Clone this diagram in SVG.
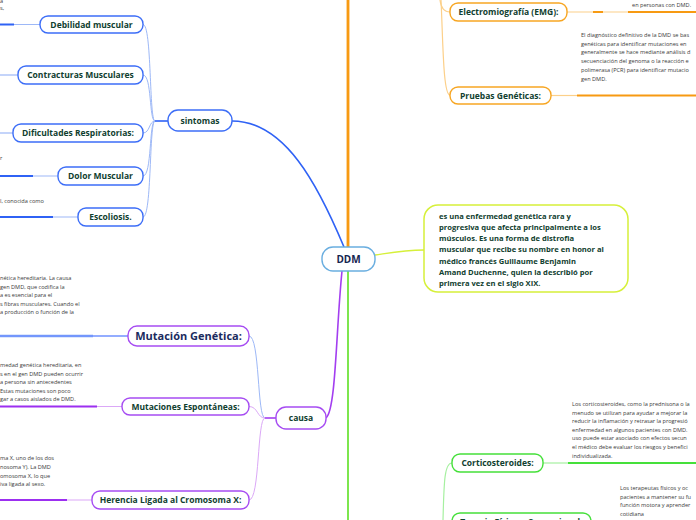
<svg xmlns="http://www.w3.org/2000/svg" width="696" height="520" viewBox="0 0 696 520">
<style>
.bg{fill:#ffffff}
.lbl{font-family:"Open Sans","Noto Sans",sans-serif;font-weight:bold;font-size:8.5px;fill:#10402f}
.big{font-family:"Open Sans","Noto Sans",sans-serif;font-weight:bold;font-size:11px;fill:#1a2b5e}
.note{font-family:"Open Sans","Noto Sans",sans-serif;font-size:5.6px;fill:#3a3a3a}
.desc{font-family:"Open Sans","Noto Sans",sans-serif;font-weight:bold;font-size:7.6px;fill:#10402f}
.nb{fill:#ffffff;stroke:#3d6ef7;stroke-width:1.4}
.np{fill:#ffffff;stroke:#a64cf2;stroke-width:1.4}
.no{fill:#ffffff;stroke:#f7a623;stroke-width:1.4}
.ng{fill:#ffffff;stroke:#45e03a;stroke-width:1.4}
.c{fill:none}
</style>
<rect class="bg" x="0" y="0" width="696" height="520"/>
<g id="connectors">
  <!-- main branches -->
  <path class="c" d="M348,0 L348,247" stroke="#fdd49a" stroke-width="4"/>
  <path class="c" d="M348,0 L348,247" stroke="#f79a12" stroke-width="2"/>
  <path class="c" d="M348,271 L348,520" stroke="#5ce021" stroke-width="1.6"/>
  <path class="c" d="M232,121 C285,121 318,185 344,247" stroke="#2f62f5" stroke-width="1.6"/>
  <path class="c" d="M326,418 C336,410 336,330 342,271" stroke="#a33ef0" stroke-width="1.6"/>
  <path class="c" d="M375,255 C395,252 405,250 424,250" stroke="#d6f03a" stroke-width="1.4"/>
  <!-- sintomas children -->
  <path class="c" d="M168,121 L155,121" stroke="#2f62f5" stroke-width="1.6"/>
  <path class="c" d="M155,121 C149,121 152,24.5 143,24.5" stroke="#9db8f7" stroke-width="1"/>
  <path class="c" d="M155,121 C149,121 152,75 143,75" stroke="#9db8f7" stroke-width="1"/>
  <path class="c" d="M155,121 C149,121 150,133 143,133" stroke="#9db8f7" stroke-width="1"/>
  <path class="c" d="M155,121 C149,121 152,176 143,176" stroke="#9db8f7" stroke-width="1"/>
  <path class="c" d="M155,121 C149,121 152,217 143,217" stroke="#9db8f7" stroke-width="1"/>
  <path class="c" d="M0,24.5 L40,24.5" stroke="#9db8f7" stroke-width="1.2"/>
  <path class="c" d="M0,24.5 L14,24.5" stroke="#2f62f5" stroke-width="2"/>
  <path class="c" d="M0,75 L18,75" stroke="#9db8f7" stroke-width="1.2"/>
  <path class="c" d="M0,133 L13,133" stroke="#9db8f7" stroke-width="1.2"/>
  <path class="c" d="M0,176 L58,176" stroke="#9db8f7" stroke-width="1.2"/>
  <path class="c" d="M0,176 L33,176" stroke="#2f62f5" stroke-width="2"/>
  <path class="c" d="M0,217 L78,217" stroke="#9db8f7" stroke-width="1.2"/>
  <path class="c" d="M0,217 L53,217" stroke="#2f62f5" stroke-width="2"/>
  <!-- causa children -->
  <path class="c" d="M276,418 L265,418" stroke="#a33ef0" stroke-width="1.6"/>
  <path class="c" d="M265,418 C257,418 260,336 249,336" stroke="#9db8f7" stroke-width="1"/>
  <path class="c" d="M265,418 C257,418 258,406.5 249,406.5" stroke="#dba8f7" stroke-width="1"/>
  <path class="c" d="M265,418 C257,418 260,500 249,500" stroke="#dba8f7" stroke-width="1"/>
  <path class="c" d="M0,336 L93,336" stroke="#bcd0f9" stroke-width="3"/>
  <path class="c" d="M0,336 L128,336" stroke="#2b5cff" stroke-width="1.2"/>
  <path class="c" d="M0,406.5 L122,406.5" stroke="#dba8f7" stroke-width="1.2"/>
  <path class="c" d="M0,406.5 L97,406.5" stroke="#9c2ff0" stroke-width="2"/>
  <path class="c" d="M0,500 L92,500" stroke="#dba8f7" stroke-width="1.2"/>
  <path class="c" d="M0,500 L67,500" stroke="#9c2ff0" stroke-width="2"/>
  <!-- orange children -->
  <path class="c" d="M440,0 C441,8 444,12 450,12" stroke="#fcd08a" stroke-width="1.2"/>
  <path class="c" d="M441,0 C443,40 443,95 450,95" stroke="#fcd08a" stroke-width="1.2"/>
  <path class="c" d="M567,12 L696,12" stroke="#fcd08a" stroke-width="1.2"/>
  <path class="c" d="M593,12 L603,12 M628,12 L696,12" stroke="#f79a12" stroke-width="2"/>
  <path class="c" d="M551,95.5 L577,95.5" stroke="#fcd08a" stroke-width="1.2"/>
  <path class="c" d="M577,95.5 L696,95.5" stroke="#f79a12" stroke-width="2"/>
  <!-- green children -->
  <path class="c" d="M443,520 C444,485 444,463 452,463" stroke="#a6f0a0" stroke-width="1.2"/>
  <path class="c" d="M543,463 L568,463" stroke="#a6f0a0" stroke-width="1.2"/>
  <path class="c" d="M568,463 L696,463" stroke="#45e03a" stroke-width="2"/>
</g>
<g id="ddm">
  <rect x="322" y="247" width="53" height="24" rx="11" fill="#ffffff" stroke="#6aaee0" stroke-width="1.4"/>
  <text x="348.5" y="263" text-anchor="middle" font-family="Open Sans, sans-serif" font-weight="bold" font-size="10" fill="#15254f">DDM</text>
</g>
<g id="sintomas">
  <rect class="nb" x="168" y="110" width="64" height="21" rx="10"/>
  <text class="lbl" x="200" y="124" text-anchor="middle" font-size="9">sintomas</text>
</g>
<g id="debilidad">
  <rect class="nb" x="40" y="16" width="103" height="17" rx="8"/>
  <text class="lbl" x="91.5" y="27.5" text-anchor="middle">Debilidad muscular</text>
  <text class="note" x="0" y="3">a</text>
  <text class="note" x="0" y="10">s,</text>
</g>
<g id="contracturas">
  <rect class="nb" x="18" y="66" width="125" height="18" rx="8"/>
  <text class="lbl" x="80.5" y="78" text-anchor="middle">Contracturas Musculares</text>
</g>
<g id="dificultades">
  <rect class="nb" x="13" y="124" width="130" height="18" rx="8"/>
  <text class="lbl" x="78" y="136" text-anchor="middle">Dificultades Respiratorias:</text>
</g>
<g id="dolor">
  <rect class="nb" x="58" y="167" width="85" height="18" rx="8"/>
  <text class="lbl" x="100.5" y="179" text-anchor="middle">Dolor Muscular</text>
  <text class="note" x="0" y="160">r</text>
</g>
<g id="escoliosis">
  <rect class="nb" x="78" y="208" width="65" height="18" rx="8"/>
  <text class="lbl" x="110.5" y="220" text-anchor="middle">Escoliosis.</text>
  <text class="note" x="0" y="203">l, conocida como</text>
</g>
<g id="causa">
  <rect class="np" x="276" y="407" width="50" height="22" rx="10"/>
  <text class="lbl" x="301" y="421" text-anchor="middle" font-size="9">causa</text>
</g>
<g id="mutacion">
  <rect class="np" x="128" y="326" width="121" height="20" rx="9"/>
  <text class="big" x="188.5" y="340" text-anchor="middle">Mutación Genética:</text>
  <text class="note" x="0" y="279.5">nética hereditaria. La causa</text>
  <text class="note" x="0" y="288.5"> gen DMD, que codifica la</text>
  <text class="note" x="0" y="297">a es esencial para el</text>
  <text class="note" x="0" y="305.5">s fibras musculares. Cuando el</text>
  <text class="note" x="0" y="313.5">a producción o función de la</text>
</g>
<g id="espontaneas">
  <rect class="np" x="122" y="398" width="127" height="17" rx="8"/>
  <text class="lbl" x="185.5" y="409.5" text-anchor="middle">Mutaciones Espontáneas:</text>
  <text class="note" x="0" y="367">medad genética hereditaria, en</text>
  <text class="note" x="0" y="375.5">s en el gen DMD pueden ocurrir</text>
  <text class="note" x="0" y="384">a persona sin antecedentes</text>
  <text class="note" x="0" y="392.5">Estas mutaciones son poco</text>
  <text class="note" x="0" y="401">gar a casos aislados de DMD.</text>
</g>
<g id="herencia">
  <rect class="np" x="92" y="491" width="157" height="18" rx="8"/>
  <text class="lbl" x="170.5" y="503" text-anchor="middle">Herencia Ligada al Cromosoma X:</text>
  <text class="note" x="0" y="460">ma X, uno de los dos</text>
  <text class="note" x="0" y="469">nosoma Y). La DMD</text>
  <text class="note" x="0" y="477.5">omosoma X, lo que</text>
  <text class="note" x="0" y="486">iva ligada al sexo.</text>
</g>
<g id="descripcion">
  <rect x="424" y="205" width="204" height="87" rx="14" fill="#ffffff" stroke="#d6f03a" stroke-width="1.5"/>
  <text class="desc" x="439" y="218.5">es una enfermedad genética rara y</text>
  <text class="desc" x="439" y="229.8">progresiva que afecta principalmente a los</text>
  <text class="desc" x="439" y="241">músculos. Es una forma de distrofia</text>
  <text class="desc" x="439" y="252.3">muscular que recibe su nombre en honor al</text>
  <text class="desc" x="439" y="263.6">médico francés Guillaume Benjamin</text>
  <text class="desc" x="439" y="274.9">Amand Duchenne, quien la describió por</text>
  <text class="desc" x="439" y="286.2">primera vez en el siglo XIX.</text>
</g>
<g id="emg">
  <rect class="no" x="450" y="3" width="117" height="18" rx="8"/>
  <text class="lbl" x="508.5" y="15" text-anchor="middle">Electromiografía (EMG):</text>
  <text class="note" x="632" y="7">en personas con DMD.</text>
</g>
<g id="pruebas">
  <rect class="no" x="450" y="87" width="101" height="17" rx="8"/>
  <text class="lbl" x="500.5" y="98.5" text-anchor="middle">Pruebas Genéticas:</text>
  <text class="note" x="581" y="37">El diagnóstico definitivo de la DMD se bas</text>
  <text class="note" x="581" y="45.7">genéticas para identificar mutaciones en</text>
  <text class="note" x="581" y="54.4">generalmente se hace mediante análisis d</text>
  <text class="note" x="581" y="63.1">secuenciación del genoma o la reacción e</text>
  <text class="note" x="581" y="71.8">polimerasa (PCR) para identificar mutacio</text>
  <text class="note" x="581" y="80.5">gen DMD.</text>
</g>
<g id="corticosteroides">
  <rect class="ng" x="452" y="454" width="91" height="18" rx="8"/>
  <text class="lbl" x="497.5" y="466" text-anchor="middle">Corticosteroides:</text>
  <text class="note" x="572" y="406">Los corticosteroides, como la prednisona o la</text>
  <text class="note" x="572" y="414.6">menudo se utilizan para ayudar a mejorar la</text>
  <text class="note" x="572" y="423.2">reducir la inflamación y retrasar la progresió</text>
  <text class="note" x="572" y="431.8">enfermedad en algunos pacientes con DMD.</text>
  <text class="note" x="572" y="440.4">uso puede estar asociado con efectos secun</text>
  <text class="note" x="572" y="449">el médico debe evaluar los riesgos y benefici</text>
  <text class="note" x="572" y="457.6">individualizada.</text>
</g>
<g id="terapia">
  <rect class="ng" x="452" y="513" width="139" height="18" rx="8"/>
  <text class="lbl" x="521.5" y="525" text-anchor="middle">Terapia Física y Ocupacional:</text>
  <text class="note" x="620" y="490"> Los terapeutas físicos y oc</text>
  <text class="note" x="620" y="498.6">pacientes a mantener su fu</text>
  <text class="note" x="620" y="507.2">función motora y aprender</text>
  <text class="note" x="620" y="515.8">cotidiana</text>
</g>
</svg>
